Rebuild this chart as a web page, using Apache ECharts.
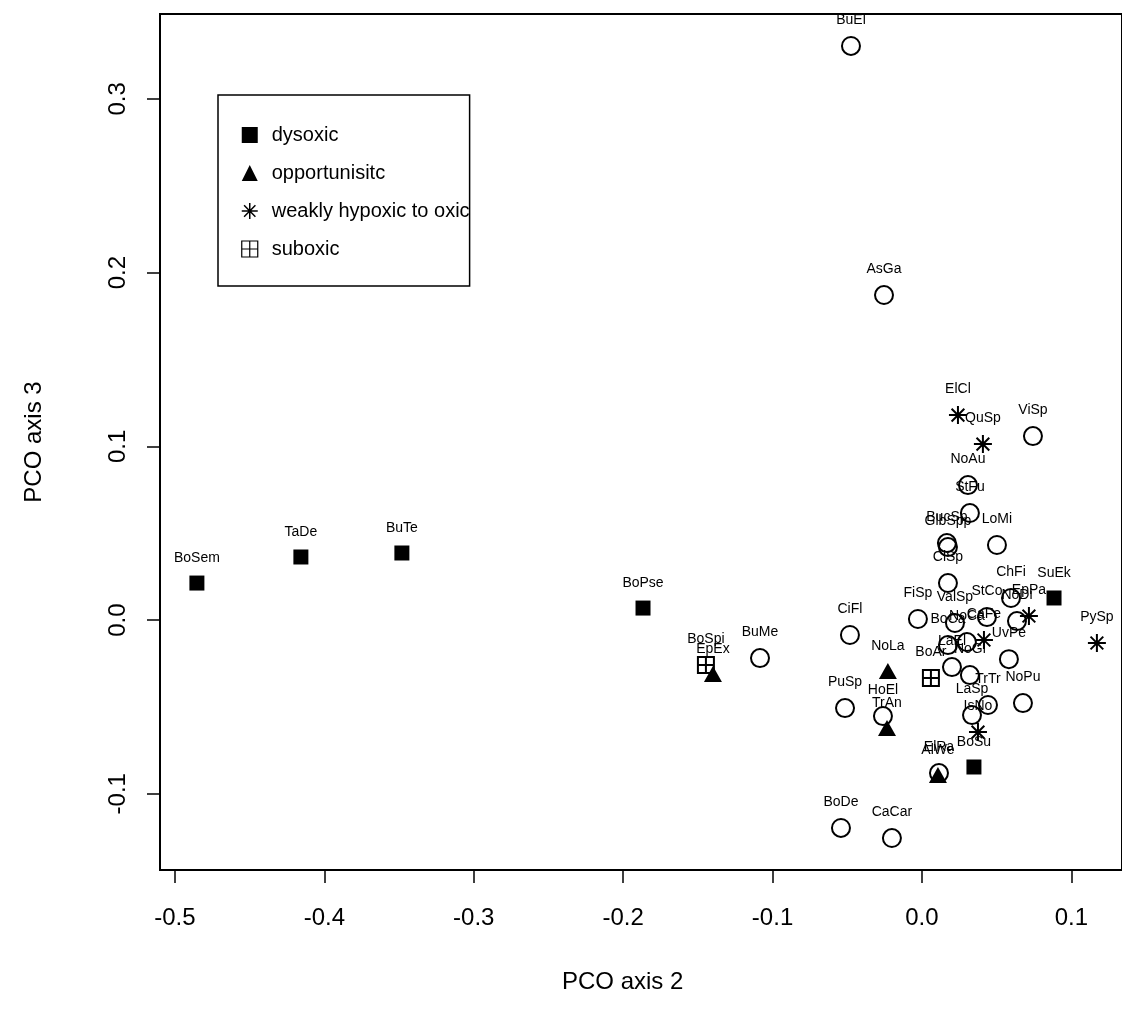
<!DOCTYPE html>
<html>
<head>
<meta charset="utf-8">
<script src="https://cdn.jsdelivr.net/npm/echarts@6/dist/echarts.min.js"></script>
<style>
html,body{margin:0;padding:0;background:#fff;}
#chart{width:1122px;height:1024px;}
</style>
</head>
<body>
<div id="chart"></div>
<script>
// ---- data ----
const dysNames = ['BoSem','TaDe','BuTe','BoPse','SuEk','BoSu'];
const dysX = [-0.4853,-0.4157,-0.3481,-0.1867,0.0884,0.0348];
const dysY = [0.0213,0.0363,0.0386,0.0069,0.0127,-0.0846];

const oppNames = ['EpEx','NoLa','TrAn','AlWe'];
const oppX = [-0.1399,-0.0228,-0.0234,0.0107];
const oppY = [-0.0311,-0.0294,-0.0622,-0.0892];

const weakNames = ['ElCl','QuSp','EpPa','CaFe','IsNo','PySp'];
const weakX = [0.0241,0.0408,0.0716,0.0415,0.0375,0.1171];
const weakY = [0.1180,0.1013,0.0023,-0.0115,-0.0645,-0.0132];

const subNames = ['BoSpi','BoAr'];
const subX = [-0.1446,0.0060];
const subY = [-0.0259,-0.0334];

const otherNames = ['BuEl','AsGa','ViSp','NoAu','StFu','BucSp','GlbSpp','LoMi','ClSp','ChFi','FiSp','ValSp','StCo','NoDi','BoCa','NoCa','LaEl','UvPe','NoGl','TrTr','NoPu','LaSp','ElRa','BoDe','CaCar','PuSp','HoEl','CiFl','BuMe'];
const otherX = [-0.0475,-0.0254,0.0743,0.0308,0.0321,0.0167,0.0174,0.0502,0.0174,0.0596,-0.0027,0.0221,0.0435,0.0636,0.0174,0.0301,0.0201,0.0582,0.0321,0.0442,0.0676,0.0335,0.0114,-0.0542,-0.0201,-0.0515,-0.0261,-0.0482,-0.1084];
const otherY = [0.3305,0.1871,0.1059,0.0777,0.0616,0.0443,0.0420,0.0432,0.0213,0.0127,0.0006,-0.0017,0.0017,-0.0006,-0.0144,-0.0127,-0.0271,-0.0225,-0.0317,-0.0489,-0.0478,-0.0547,-0.0881,-0.1197,-0.1255,-0.0507,-0.0553,-0.0086,-0.0219];

const xTicks = [-0.5,-0.4,-0.3,-0.2,-0.1,0.0,0.1];
const yTicks = [-0.1,0.0,0.1,0.2,0.3];
const groupNames = ['dysoxic','opportunisitc','weakly hypoxic to oxic','suboxic'];

// ---- styling ----
const FONT = 'Liberation Sans, Arial, Helvetica, sans-serif';
const LABEL_SIZE = 14;
const ASTERISK = 'path://M10,0V20M0,10H20M2.93,2.93L17.07,17.07M2.93,17.07L17.07,2.93';
const SQPLUS = 'path://M0,0H20V20H0ZM10,0V20M0,10H20';

function pts(xs, ys, names){ return xs.map((x,i)=>[x, ys[i], names[i]]); }
function mkSeries(name, data, symbol, size, itemStyle){
  const h = Array.isArray(size)?size[1]:size;
  return {
    name, type:'scatter', data, symbol, symbolSize:size,
    itemStyle:Object.assign({opacity:1}, itemStyle), silent:true,
    label:{show:true, position:'top', distance: 25 - h/2 - LABEL_SIZE/2,
      formatter:p=>p.data[2], color:'#000', opacity:1, fontSize:LABEL_SIZE, fontFamily:FONT},
    emphasis:{disabled:true}
  };
}
const openStyle = {color:'rgba(0,0,0,0)', borderColor:'#000', borderWidth:2};

const chart = echarts.init(document.getElementById('chart'), null, {renderer:'canvas'});
chart.setOption({
  animation:false,
  backgroundColor:'#fff',
  grid:{left:160, top:14, right:-3, bottom:154, show:true, borderColor:'#000', borderWidth:2, backgroundColor:'transparent'},
  xAxis:{type:'value', min:-0.51, max:0.1339, splitLine:{show:false},
    axisLine:{show:false, onZero:false},
    axisTick:{show:true, length:13, lineStyle:{color:'#000', width:1.5}, customValues:xTicks},
    axisLabel:{color:'#000', fontSize:24, fontFamily:FONT, margin:36, customValues:xTicks,
      formatter:v=>v.toFixed(1)}
  },
  yAxis:{type:'value', min:-0.1439, max:0.3489, splitLine:{show:false},
    axisLine:{show:false, onZero:false},
    axisTick:{show:true, length:13, lineStyle:{color:'#000', width:1.5}, customValues:yTicks},
    axisLabel:{color:'#000', fontSize:24, fontFamily:FONT, margin:30, rotate:90, customValues:yTicks,
      formatter:v=>v.toFixed(1)},
    name:'PCO axis 3', nameLocation:'middle', nameGap:114, nameRotate:90,
    nameTextStyle:{color:'#000', fontSize:24, fontFamily:FONT}
  },
  legend:{
    orient:'vertical', left:218, top:95, padding:[28,0,25,23],
    backgroundColor:'#fff', borderColor:'#000', borderWidth:1.5, borderRadius:0,
    itemWidth:16, itemHeight:16, itemGap:14,
    data:[
      {name:groupNames[0], icon:'rect', itemStyle:{color:'#000', opacity:1}},
      {name:groupNames[1], icon:'triangle', itemStyle:{color:'#000', opacity:1}},
      {name:groupNames[2], icon:ASTERISK, itemStyle:{color:'rgba(0,0,0,0)', borderColor:'#000', borderWidth:1.5, opacity:1}},
      {name:groupNames[3], icon:SQPLUS, itemStyle:{color:'rgba(0,0,0,0)', borderColor:'#000', borderWidth:1.2, opacity:1}}
    ],
    textStyle:{color:'#000', fontSize:20, fontFamily:FONT, lineHeight:24, padding:[0,0,0,9]},
    selectedMode:false, z:10
  },
  graphic:[{type:'text', left:562, top:970, style:{text:'PCO axis 2', fontSize:24, fontFamily:FONT, fill:'#000'}}],
  series:[
    mkSeries('others', pts(otherX, otherY, otherNames), 'circle', 18, openStyle),
    mkSeries(groupNames[0], pts(dysX, dysY, dysNames), 'rect', 15, {color:'#000'}),
    mkSeries(groupNames[1], pts(oppX, oppY, oppNames), 'triangle', [18,16], {color:'#000'}),
    mkSeries(groupNames[2], pts(weakX, weakY, weakNames), ASTERISK, 18, openStyle),
    mkSeries(groupNames[3], pts(subX, subY, subNames), SQPLUS, 16, openStyle)
  ]
});
</script>
</body>
</html>
